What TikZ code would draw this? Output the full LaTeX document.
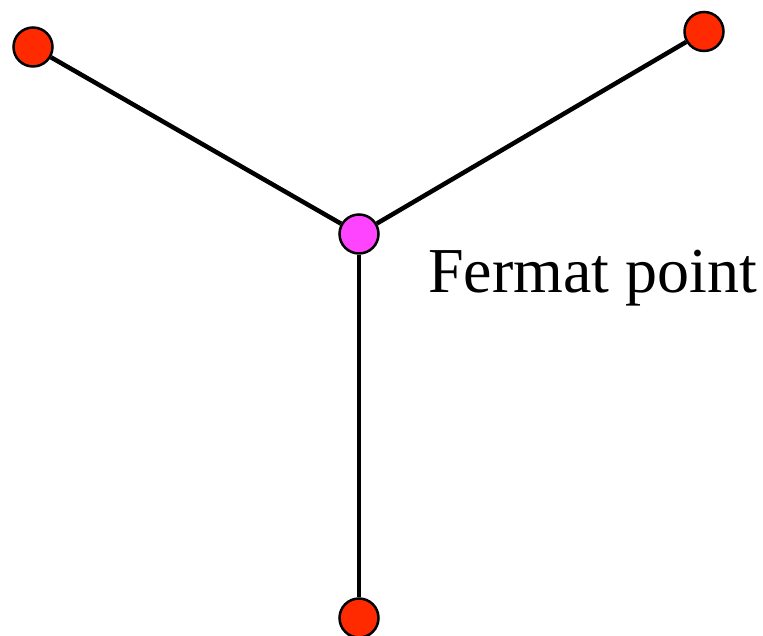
\documentclass[tikz,border=0pt]{standalone}
\usepackage{fontspec}
\setmainfont{Liberation Serif}
\definecolor{ptred}{RGB}{255,42,0}
\definecolor{ptmag}{RGB}{255,68,255}
\begin{document}
\begin{tikzpicture}[x=1pt,y=1pt,
  pt/.style={circle,draw=black,line width=2.5pt,minimum size=39pt,inner sep=0pt},
  edge/.style={line width=4.5pt,black}]
\useasboundingbox (0,0) rectangle (763,636);
\node[pt,fill=ptred] (a) at (33,589) {};
\node[pt,fill=ptred] (b) at (704,604.5) {};
\node[pt,fill=ptred] (c) at (359,18) {};
\node[pt,fill=ptmag] (f) at (359,402) {};
\draw[edge] (a) -- (f);
\draw[edge] (b) -- (f);
\draw[edge] (c) -- (f);
\node[anchor=base west,inner sep=0pt,font=\fontsize{64}{70}\selectfont] (lbl) at (428,343) {Fermat point};
\end{tikzpicture}
\end{document}
